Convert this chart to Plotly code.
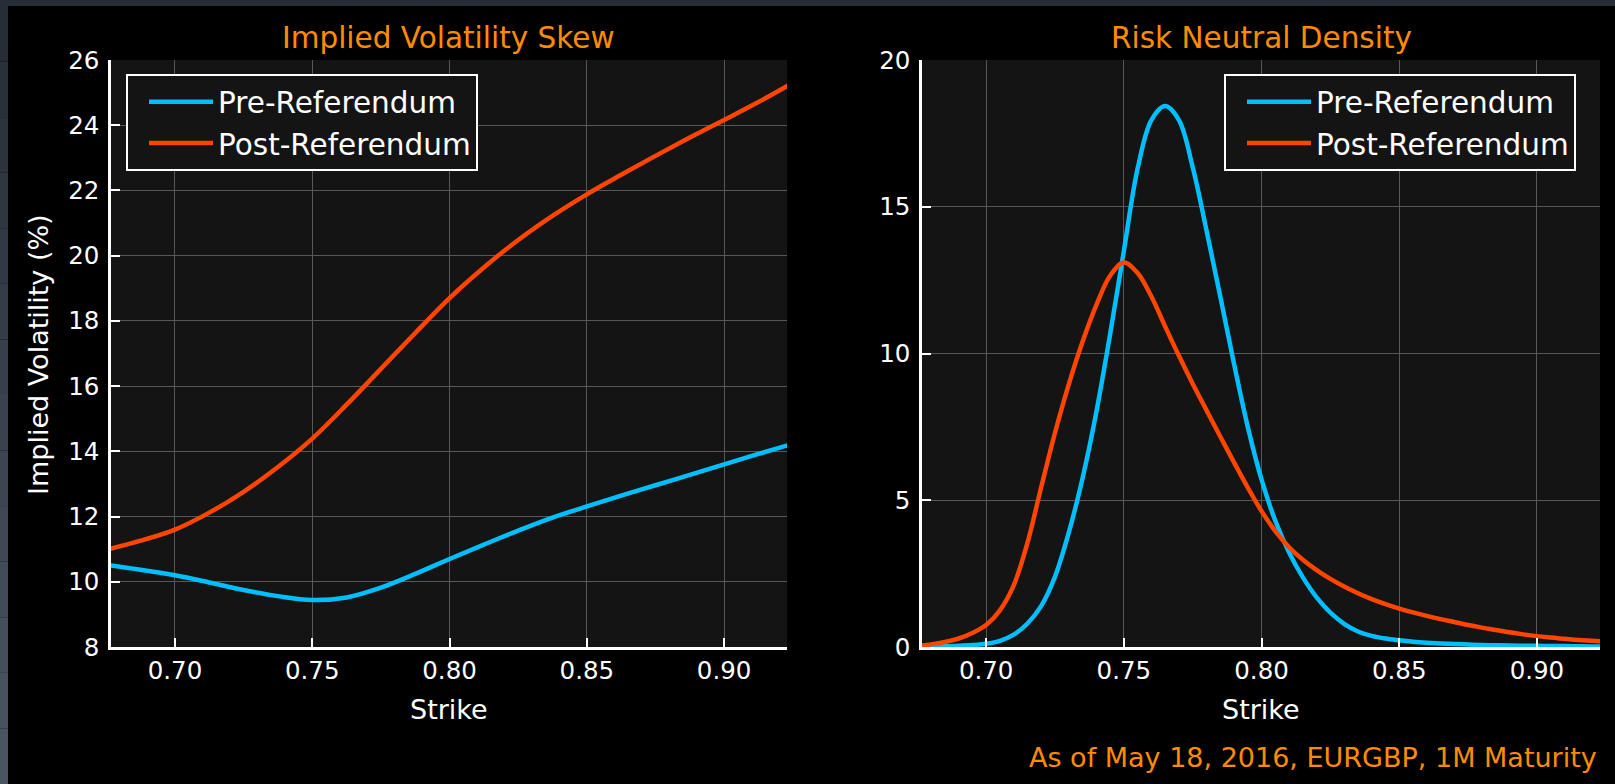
import plotly.graph_objects as go

W, H = 1615, 784

# ---------------- data ----------------
strike_iv = [0.675, 0.6875, 0.700, 0.7125, 0.725, 0.7375, 0.750, 0.7625, 0.775, 0.7875, 0.800,
             0.8125, 0.825, 0.8375, 0.850, 0.8625, 0.875, 0.8875, 0.900, 0.9125, 0.925]
iv_pre = [10.52, 10.37, 10.20, 9.98, 9.75, 9.56, 9.44, 9.52, 9.82, 10.24, 10.70,
          11.14, 11.57, 11.97, 12.31, 12.64, 12.96, 13.28, 13.60, 13.92, 14.23]
iv_post = [10.98, 11.26, 11.60, 12.12, 12.76, 13.52, 14.39, 15.43, 16.53, 17.63, 18.70,
           19.64, 20.48, 21.22, 21.88, 22.48, 23.06, 23.62, 24.16, 24.71, 25.30]

strike_rnd = [0.675, 0.680, 0.685, 0.690, 0.695, 0.700, 0.705, 0.710, 0.715, 0.720,
              0.725, 0.730, 0.735, 0.740, 0.745, 0.750, 0.755, 0.760, 0.765, 0.770,
              0.775, 0.780, 0.785, 0.790, 0.795, 0.800, 0.805, 0.810, 0.815, 0.820,
              0.825, 0.830, 0.835, 0.840, 0.845, 0.850, 0.855, 0.860, 0.865, 0.870,
              0.875, 0.880, 0.885, 0.890, 0.895, 0.900, 0.905, 0.910, 0.915, 0.920, 0.925]
rnd_pre = [0.0, 0.01, 0.025, 0.04, 0.065, 0.11, 0.21, 0.42, 0.80, 1.40,
           2.40, 3.90, 5.75, 8.0, 10.65, 13.5, 16.3, 17.95, 18.43, 17.95,
           16.35, 14.2, 11.95, 9.65, 7.5, 5.7, 4.3, 3.22, 2.37, 1.69,
           1.17, 0.79, 0.53, 0.38, 0.29, 0.23, 0.18, 0.145, 0.12, 0.10,
           0.085, 0.07, 0.06, 0.05, 0.045, 0.04, 0.035, 0.03, 0.025, 0.02, 0.02]
rnd_post = [0.04, 0.09, 0.17, 0.29, 0.48, 0.75, 1.25, 2.10, 3.55, 5.45,
            7.30, 8.95, 10.40, 11.65, 12.65, 13.1, 12.74, 11.94, 10.92, 9.92,
            8.97, 8.07, 7.17, 6.29, 5.43, 4.63, 3.95, 3.40, 2.97, 2.62,
            2.32, 2.06, 1.83, 1.63, 1.46, 1.31, 1.18, 1.06, 0.95, 0.85,
            0.75, 0.66, 0.58, 0.50, 0.43, 0.37, 0.32, 0.28, 0.24, 0.21, 0.18]

series_names = ["Pre-Referendum", "Post-Referendum"]
x_ticks = [0.70, 0.75, 0.80, 0.85, 0.90]
iv_ticks = [8, 10, 12, 14, 16, 18, 20, 22, 24, 26]
rnd_ticks = [0, 5, 10, 15, 20]

# ---------------- style ----------------
BLUE = "#00bfff"
RED = "#ff4500"
ORANGE = "#ff8c00"
FONT = "DejaVu Sans"
PLOT_BG = "#141414"
GRID = "#575757"
LW = 4.5


def fx(p):
    return p / W


def fy(p):
    return 1 - p / H


fig = go.Figure()
line_kw = dict(shape="spline", smoothing=1.0, width=LW)
fig.add_trace(go.Scatter(x=strike_iv, y=iv_pre, name=series_names[0], mode="lines",
                         line=dict(color=BLUE, **line_kw), xaxis="x", yaxis="y", legend="legend"))
fig.add_trace(go.Scatter(x=strike_iv, y=iv_post, name=series_names[1], mode="lines",
                         line=dict(color=RED, **line_kw), xaxis="x", yaxis="y", legend="legend"))
fig.add_trace(go.Scatter(x=strike_rnd, y=rnd_pre, name=series_names[0], mode="lines",
                         line=dict(color=BLUE, **line_kw), xaxis="x2", yaxis="y2", legend="legend2"))
fig.add_trace(go.Scatter(x=strike_rnd, y=rnd_post, name=series_names[1], mode="lines",
                         line=dict(color=RED, **line_kw), xaxis="x2", yaxis="y2", legend="legend2"))

tickfont = dict(family=FONT, size=24.5, color="white")

common_x = dict(range=[0.6767, 0.9229], tickvals=x_ticks, tickformat=".2f",
                ticks="inside", ticklen=9, tickwidth=1.5, tickcolor="white",
                showline=True, linecolor="white", linewidth=2.5, mirror=False,
                showgrid=True, gridcolor=GRID, gridwidth=1, zeroline=False,
                tickfont=tickfont, ticklabelstandoff=0, fixedrange=True, automargin=False)
common_y = dict(ticks="inside", ticklen=9, tickwidth=1.5, tickcolor="white",
                showline=True, linecolor="white", linewidth=2.5, mirror=False,
                showgrid=True, gridcolor=GRID, gridwidth=1, zeroline=False,
                tickfont=tickfont, ticklabelstandoff=4, fixedrange=True, automargin=False)

y_dom = [fy(647), fy(60)]

legend_style = dict(font=dict(family=FONT, size=29.5, color="white"),
                    bgcolor=PLOT_BG, bordercolor="white", borderwidth=2,
                    xanchor="left", yanchor="top", indentation=16, itemwidth=64,
                    tracegroupgap=0)

fig.update_layout(
    width=W, height=H, autosize=False,
    margin=dict(l=0, r=0, t=0, b=0, pad=0, autoexpand=False),
    paper_bgcolor="black", plot_bgcolor=PLOT_BG,
    font=dict(family=FONT, color="white"),
    xaxis=dict(domain=[fx(111), fx(787)], anchor="y", **common_x),
    yaxis=dict(domain=y_dom, anchor="x", range=[8, 26], tickvals=iv_ticks, **common_y),
    xaxis2=dict(domain=[fx(922), fx(1600)], anchor="y2", **common_x),
    yaxis2=dict(domain=y_dom, anchor="x2", range=[0, 20], tickvals=rnd_ticks, **common_y),
    legend=dict(x=fx(126), y=fy(74), **legend_style),
    legend2=dict(x=fx(1224), y=fy(74), **legend_style),
    showlegend=True,
)

# host-page chrome visible in the reference: thin top bar and left edge strip
shapes = [dict(type="rect", xref="paper", yref="paper", x0=0, x1=1, y0=fy(6), y1=1,
               fillcolor="#262d37", line=dict(width=0), layer="above")]
c0 = (0x26, 0x2d, 0x37)
c1 = (0x4b, 0x55, 0x60)
nseg = 14
for i in range(nseg):
    t = i / (nseg - 1)
    col = "#%02x%02x%02x" % tuple(int(round(a + (b - a) * t)) for a, b in zip(c0, c1))
    shapes.append(dict(type="rect", xref="paper", yref="paper", x0=0, x1=fx(8),
                       y0=fy(6 + (i + 1) * (H - 6) / nseg), y1=fy(6 + i * (H - 6) / nseg),
                       fillcolor=col, line=dict(width=0), layer="above"))
fig.update_layout(shapes=shapes)

ann = []
ann.append(dict(text="Implied Volatility Skew", x=fx(449), y=fy(38), xref="paper", yref="paper",
                showarrow=False, xanchor="center", yanchor="middle",
                font=dict(family=FONT, size=29.5, color=ORANGE)))
ann.append(dict(text="Risk Neutral Density", x=fx(1261), y=fy(38), xref="paper", yref="paper",
                showarrow=False, xanchor="center", yanchor="middle",
                font=dict(family=FONT, size=29.5, color=ORANGE)))
ann.append(dict(text="Strike", x=fx(449), y=fy(709), xref="paper", yref="paper",
                showarrow=False, xanchor="center", yanchor="middle",
                font=dict(family=FONT, size=27, color="white")))
ann.append(dict(text="Strike", x=fx(1261), y=fy(709), xref="paper", yref="paper",
                showarrow=False, xanchor="center", yanchor="middle",
                font=dict(family=FONT, size=27, color="white")))
ann.append(dict(text="Implied Volatility (%)", x=fx(38), y=fy(355), xref="paper", yref="paper",
                showarrow=False, xanchor="center", yanchor="middle", textangle=-90,
                font=dict(family=FONT, size=27, color="white")))
ann.append(dict(text="As of May 18, 2016, EURGBP, 1M Maturity", x=fx(1599), y=fy(757),
                xref="paper", yref="paper", showarrow=False, xanchor="right", yanchor="middle",
                font=dict(family=FONT, size=27, color=ORANGE)))
fig.update_layout(annotations=ann)

fig.write_html("out.html", config={"displayModeBar": False})
